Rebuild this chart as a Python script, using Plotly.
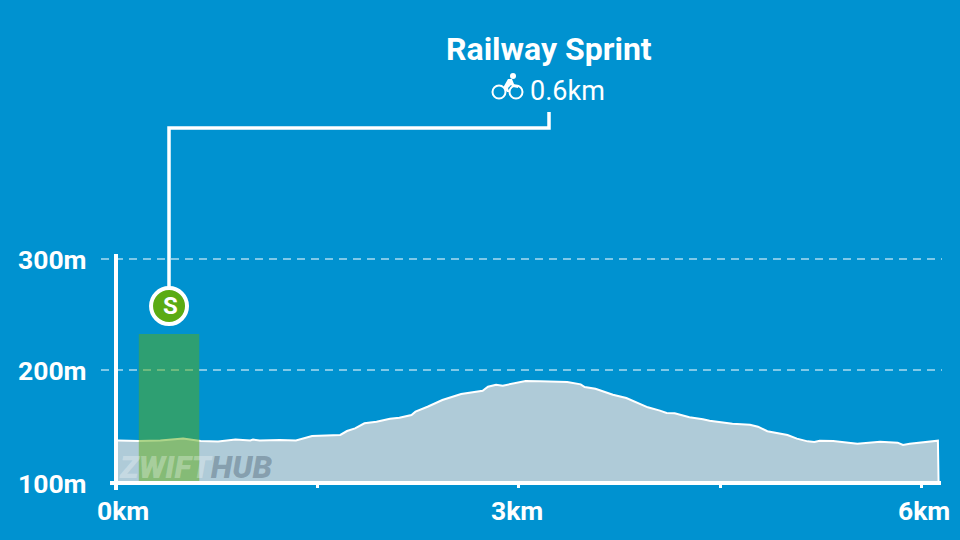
import plotly.graph_objects as go

# Elevation profile
distance_km = [0, .17, .33, .50, .63, .76, .89, 1.0, 1.02, 1.07, 1.22, 1.34, 1.46, 1.67, 1.72, 1.78, 1.85, 1.94,
               2.04, 2.11, 2.20, 2.23, 2.32, 2.43, 2.57, 2.66, 2.73, 2.77, 2.83, 2.88, 2.96, 3.05, 3.16, 3.36,
               3.46, 3.49, 3.57, 3.70, 3.80, 3.88, 3.96, 4.05, 4.10, 4.16, 4.27, 4.37, 4.42, 4.59, 4.72, 4.78,
               4.85, 5.00, 5.07, 5.15, 5.20, 5.24, 5.34, 5.52, 5.69, 5.82, 5.86, 5.91, 6.04, 6.12, 6.125]
elevation_m = [138, 137.5, 138, 139.7, 137.5, 137, 138.8, 138, 138.8, 138, 138.4, 138, 142, 142.9, 146.4, 148.8,
               153.3, 154.7, 157.4, 158.3, 160.7, 163.7, 168.1, 174.1, 179.5, 181.5, 182.4, 186, 187.8, 186.9,
               188.7, 191.1, 190.8, 190.2, 188.1, 185.7, 184.2, 178.8, 175.9, 171.7, 167.6, 164.6, 162.5, 162.2,
               158.7, 156.9, 155.6, 152.9, 152, 150.3, 146.2, 142.9, 139.6, 137.2, 136.6, 137.8, 137.5, 135.1,
               136.9, 136, 133.9, 135.1, 136.9, 137.8, 100]

# Sprint segment
sprint_name = "Railway Sprint"
sprint_label = "0.6km"
sprint_start_km = 0.17
sprint_end_km = 0.62
sprint_top_m = 233
marker_km = 0.395
marker_m = 258

# Axis labels
y_ticks = [100, 200, 300]
y_labels = ["100m", "200m", "300m"]
x_ticks = [1.5, 3, 4.5, 6]
x_labels = ["0km", "3km", "6km"]

BG = "#0092D0"
GREEN = "#5BAB14"
FONT = "Roboto"


def px(cx):
    return (cx - 118) / 823


def py(cy):
    return (481 - cy) / 227


fig = go.Figure()

fig.add_trace(go.Scatter(x=distance_km, y=elevation_m, mode="lines", fill="tozeroy", fillcolor="#AFCBD8",
                         line=dict(color="white", width=2)))

fig.add_trace(go.Scatter(x=[sprint_start_km, sprint_start_km, sprint_end_km, sprint_end_km],
                         y=[100, sprint_top_m, sprint_top_m, 100], mode="lines", fill="toself",
                         fillcolor="rgba(91,171,20,0.5)", line=dict(width=0)))

fig.add_trace(go.Scatter(x=[marker_km], y=[marker_m], mode="markers", cliponaxis=False,
                         marker=dict(size=36, color=GREEN, line=dict(color="white", width=4))))

annotations = [
    dict(x=px(548.5), y=py(49), text=f"<b>{sprint_name}</b>", font=dict(family=FONT, size=32, color="white")),
    dict(x=px(567), y=py(91), text=sprint_label, font=dict(family=FONT, size=27, color="white")),
    dict(x=px(170), y=py(306), text="<b>S</b>", font=dict(family=FONT, size=24, color="white")),
    dict(x=px(196), y=py(467),
         text='<i><span style="color:rgba(255,255,255,0.3)">ZWIFT</span>'
              '<span style="color:rgba(30,50,70,0.28)">HUB</span></i>',
         font=dict(family=FONT, size=31.5, weight=900)),
]
for pos, lab in zip([123, 516.5, 924], x_labels):
    annotations.append(dict(x=px(pos), y=py(510), text=f"<b>{lab}</b>",
                            font=dict(family=FONT, size=26.5, color="white")))
for a in annotations:
    a.update(xref="paper", yref="paper", showarrow=False, xanchor="center", yanchor="middle")
for pos, lab, cy in zip(y_ticks, y_labels, [483, 370.5, 259.5]):
    annotations.append(dict(x=px(89), y=py(cy), xref="paper", yref="paper", xanchor="right", yanchor="middle",
                            showarrow=False, text=f"<b>{lab}</b>", font=dict(family=FONT, size=26.5, color="white")))

# cyclist icon
ANCHOR = dict(xref="paper", yref="paper", xsizemode="pixel", ysizemode="pixel", xanchor=px(508), yanchor=py(88))
shapes = [
    dict(type="circle", x0=-15.5, x1=-2.5, y0=-10.5, y1=2.5, line=dict(color="white", width=2), **ANCHOR),
    dict(type="circle", x0=1.5, x1=14.5, y0=-10.5, y1=2.5, line=dict(color="white", width=2), **ANCHOR),
    dict(type="circle", x0=2, x1=8, y0=9, y1=15, fillcolor="white", line=dict(width=0), **ANCHOR),
    dict(type="path", path="M 0 9 L 4 9 L 6 4 L 10 2 L 10 0 L 5 1 L 3 3 L 0 0 L 1 -3 L 1 -4 L -1 -4 L -4 0 L -4 2 Z",
         fillcolor="white", line=dict(width=0), **ANCHOR),
]
# dashed gridlines run past both ends of the plot
for g, cy in zip(y_ticks[1:], [370, 259]):
    shapes.append(dict(type="line", xref="paper", yref="paper", x0=px(101), x1=px(942), y0=py(cy), y1=py(cy),
                       layer="below", line=dict(color="rgba(255,255,255,0.5)", width=2, dash="8px,6px")))
# leader from the marker up to the label
shapes.append(dict(type="path", xref="paper", yref="paper", layer="below",
                   path=f"M {px(169)} {py(295)} L {px(169)} {py(128)} L {px(549)} {py(128)} L {px(549)} {py(112)}",
                   line=dict(color="white", width=3.5)))
# axis stubs at the origin
shapes.append(dict(type="line", xref="paper", yref="paper", x0=px(110), x1=px(116), y0=py(483), y1=py(483),
                   line=dict(color="white", width=4)))
shapes.append(dict(type="line", xref="paper", yref="paper", x0=px(116), x1=px(116), y0=py(483), y1=py(490),
                   line=dict(color="white", width=4)))

fig.update_layout(
    width=960, height=540, showlegend=False, paper_bgcolor=BG, plot_bgcolor="rgba(0,0,0,0)",
    margin=dict(l=118, r=19, t=254, b=59, pad=0),
    annotations=annotations, shapes=shapes,
    xaxis=dict(range=[0.015, 6.143], tickvals=x_ticks, ticktext=["", "", "", ""], ticks="outside", ticklen=3,
               tickwidth=3, tickcolor="white", showgrid=False, zeroline=False, showline=True, linecolor="white",
               linewidth=4),
    yaxis=dict(range=[101.8, 304.46], showticklabels=False, ticks="", showgrid=False, zeroline=False,
               showline=True, linecolor="white", linewidth=4),
)

fig.write_html("out.html", config={"displayModeBar": False},
               post_script="document.body.style.margin='0';document.body.style.background='#0092D0';")
